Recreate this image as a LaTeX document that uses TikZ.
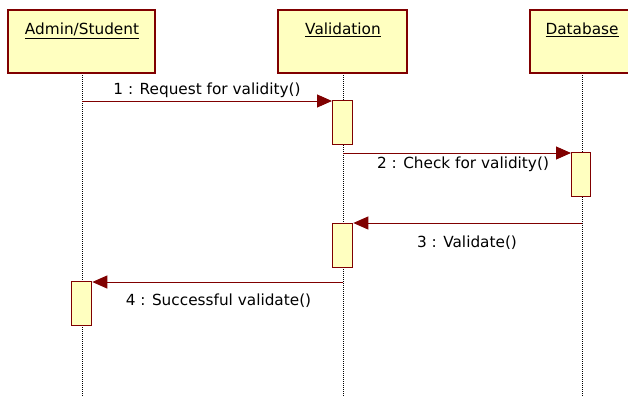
\documentclass[tikz,border=0pt]{standalone}
\usepackage{fontspec}
\setmainfont{DejaVu Sans}
\usetikzlibrary{arrows.meta}
\definecolor{umlred}{HTML}{800000}
\definecolor{umlfill}{HTML}{FFFFC0}
\tikzset{
  objbox/.style={draw=umlred, fill=umlfill, line width=1.3pt},
  actbox/.style={draw=umlred, fill=umlfill, line width=1.3pt},
  lifeline/.style={black, line width=0.8pt, dash pattern=on 1pt off 1pt},
  msg/.style={umlred, line width=1pt, -{Triangle[length=15pt,width=13pt]}},
  lbl/.style={font=\fontsize{15.3}{17}\selectfont, inner sep=0pt, anchor=base},
  hdr/.style={font=\fontsize{15.3}{17}\selectfont, inner sep=0pt, anchor=base},
}
\begin{document}
\begin{tikzpicture}[x=1pt,y=-1pt]
\useasboundingbox (0,0) rectangle (628,396);
\begin{scope}
\clip (0,0) rectangle (628,396);
% lifelines
\draw[lifeline] (82,73) -- (82,396);
\draw[lifeline] (343,73) -- (343,396);
\draw[lifeline] (582,73) -- (582,396);
% object boxes
\draw[objbox] (8,10) rectangle (155,73);
\draw[objbox] (278,10) rectangle (407,73);
\draw[objbox] (530,10) rectangle (640,73);
\node[hdr] (admin) at (82,35) {\underline{Admin/Student}};
\node[hdr] (valid) at (343,35) {\underline{Validation}};
\node[hdr] (db) at (582,35) {\underline{Database}};
% activations
\node[actbox, minimum width=20pt, minimum height=44pt, inner sep=0pt, anchor=north west] (v1) at (332,100) {};
\node[actbox, minimum width=19pt, minimum height=44pt, inner sep=0pt, anchor=north west] (d1) at (571,152) {};
\node[actbox, minimum width=20pt, minimum height=44pt, inner sep=0pt, anchor=north west] (v2) at (332,223) {};
\node[actbox, minimum width=20pt, minimum height=44pt, inner sep=0pt, anchor=north west] (a1) at (71,281) {};
% message endpoints
\coordinate (m1s) at (82,101);
\coordinate (m2s) at (343,153);
\coordinate (m3s) at (582,223);
\coordinate (m4s) at (343,282);
\draw[msg] (m1s) -- (m1s -| v1.west);
\draw[msg] (m2s) -- (m2s -| d1.west);
\draw[msg] (m3s) -- (m3s -| v2.east);
\draw[msg] (m4s) -- (m4s -| a1.east);
\node[lbl] (l1) at (207,94) {1 : Request for validity()};
\node[lbl] (l2) at (463,168) {2 : Check for validity()};
\node[lbl] (l3) at (467,247) {3 : Validate()};
\node[lbl] (l4) at (218.5,305) {4 : Successful validate()};
\end{scope}
\end{tikzpicture}
\end{document}
